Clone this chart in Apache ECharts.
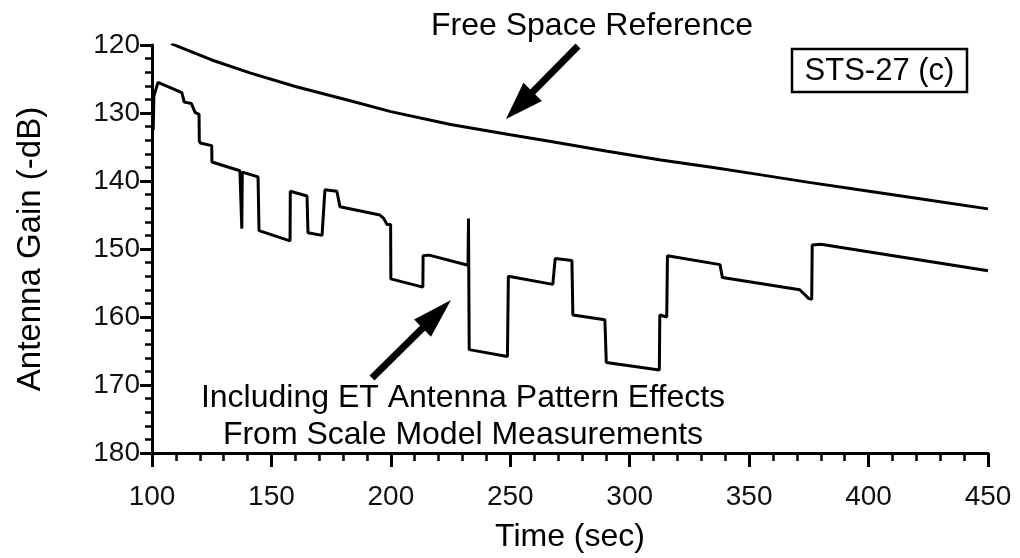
<!DOCTYPE html>
<html>
<head>
<meta charset="utf-8">
<script src="https://cdn.jsdelivr.net/npm/echarts@6/dist/echarts.min.js"></script>
<style>html,body{margin:0;padding:0;background:#fff;}#c{width:1020px;height:558px;}</style>
</head>
<body>
<div id="c"></div>
<script>
// Free space reference curve: [time (s), gain (-dB)]
const freeSpace = [
  [108,119.8],[125,122.2],[141,124.1],[160,126.1],[183,128.2],[200,129.8],
  [225,131.7],[250,133.2],[267,134.2],[290,135.6],[313,136.9],[335,138.0],
  [355,139.1],[375,140.2],[396,141.3],[425,142.8],[450,144.1]
];
// Including ET antenna pattern effects
const withET = [
  [100.5,132.5],[100.8,127.5],[102.5,125.5],[112.5,127.0],[113.5,128.4],[116.5,128.6],
  [118,129.9],[119.7,130.2],[119.8,134.1],[120.2,134.4],[125,134.8],[125.1,137.2],
  [136.8,138.5],[137.5,138.6],[137.6,147.0],[137.8,138.7],[144.4,139.4],[144.8,147.3],
  [157.8,148.8],[157.9,141.5],[158.5,141.3],[164.9,142.2],[165.3,147.6],[171.2,148.0],
  [172.4,141.3],[177.4,141.5],[178.7,143.8],[195.4,145.0],[197,145.5],[198.4,146.4],
  [199.9,146.4],[200,154.4],[213.4,155.6],[213.5,151.0],[216,150.9],[232.3,152.4],
  [232.5,145.5],[232.8,164.8],[248.8,165.8],[249.2,154.0],[267.8,155.2],[268.8,151.4],
  [275.8,151.7],[276.2,159.7],[289.6,160.4],[290.2,166.7],[312.4,167.8],[312.6,159.7],
  [315.5,160.0],[315.8,151.0],[337.8,152.3],[338.8,154.2],[371.2,156.0],[372,155.9],
  [375,157.3],[376.2,157.4],[376.4,149.4],[380,149.3],[450,153.2]
];
const xTicks = [100,150,200,250,300,350,400,450];
const yTicks = [120,130,140,150,160,170,180];

const chart = echarts.init(document.getElementById('c'), null, {renderer:'canvas'});
const FONT = 'Liberation Sans';
function arrow(tip, tail, headLen, halfW, w) {
  const dx = tip[0]-tail[0], dy = tip[1]-tail[1];
  const L = Math.hypot(dx,dy), ux = dx/L, uy = dy/L;
  const bx = tip[0]-headLen*ux, by = tip[1]-headLen*uy;
  const px = -uy, py = ux;
  return [
    {type:'line', shape:{x1:tail[0],y1:tail[1],x2:bx+2*ux,y2:by+2*uy}, style:{stroke:'#000',lineWidth:w}},
    {type:'polygon', shape:{points:[tip,[bx+halfW*px,by+halfW*py],[bx-halfW*px,by-halfW*py]]}, style:{fill:'#000'}}
  ];
}
function txt(s, x, y, size) {
  return {type:'text', style:{text:s, x:x, y:y, align:'center', verticalAlign:'middle',
    font:size+'px "Liberation Sans"', fill:'#000'}};
}
const option = {
  animation:false,
  backgroundColor:'#fff',
  grid:{left:152, right:32, top:45, bottom:101, containLabel:false},
  xAxis:{
    type:'value', min:100, max:450, interval:50,
    name:'Time (sec)', nameLocation:'middle', nameGap:68,
    nameTextStyle:{fontFamily:FONT, fontSize:32, color:'#000'},
    axisLine:{show:true, onZero:false, lineStyle:{color:'#000', width:3}},
    axisTick:{show:true, length:14, lineStyle:{color:'#000', width:3}},
    minorTick:{show:true, splitNumber:5, length:8, lineStyle:{color:'#000', width:2.5}},
    axisLabel:{fontFamily:FONT, fontSize:28, color:'#111', margin:30},
    splitLine:{show:false}
  },
  yAxis:{
    type:'value', min:120, max:180, interval:10, inverse:true,
    name:'Antenna Gain (-dB)', nameLocation:'middle', nameGap:105, nameRotate:90,
    nameTextStyle:{fontFamily:FONT, fontSize:33, color:'#000'},
    axisLine:{show:true, onZero:false, lineStyle:{color:'#000', width:3}},
    axisTick:{show:true, length:12, lineStyle:{color:'#000', width:3}},
    minorTick:{show:true, splitNumber:5, length:7, lineStyle:{color:'#000', width:2.5}},
    axisLabel:{fontFamily:FONT, fontSize:28, color:'#111', margin:12},
    splitLine:{show:false}
  },
  series:[
    {type:'line', data:freeSpace, showSymbol:false, smooth:false,
     lineStyle:{color:'#000', width:3}},
    {type:'line', data:withET, showSymbol:false, smooth:false,
     lineStyle:{color:'#000', width:3}}
  ],
  graphic:[
    txt('Free Space Reference', 592, 26, 32),
    {type:'rect', shape:{x:792, y:49, width:175, height:43}, style:{fill:'#fff', stroke:'#000', lineWidth:2.5}},
    txt('STS-27 (c)', 879.5, 71, 31),
    txt('Including ET Antenna Pattern Effects', 463, 398, 32),
    txt('From Scale Model Measurements', 463, 435, 32),
    ...arrow([506,119],[578,46],38,13,7),
    ...arrow([451,300],[372,378],40,12,7)
  ]
};
chart.setOption(option);
</script>
</body>
</html>
